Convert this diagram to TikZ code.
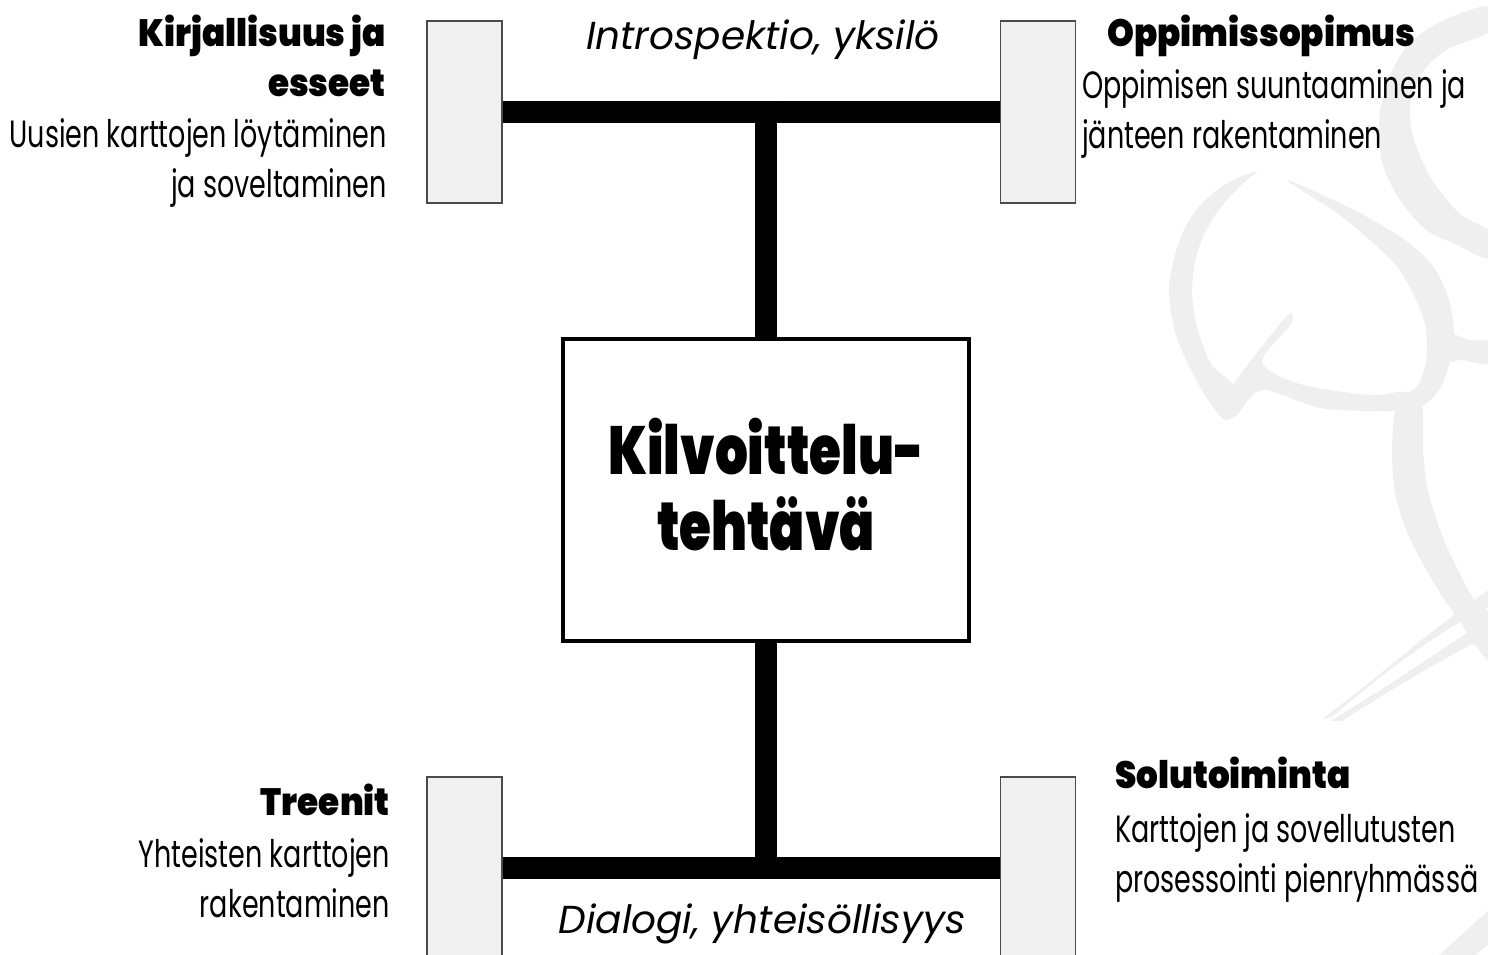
\documentclass[tikz,border=0pt]{standalone}
\usepackage{fontspec}
\setmainfont{Poppins}
\newfontfamily\heavyfont{Poppins Black}[FakeStretch=0.9]
\newfontfamily\titlefont{Poppins Black}[FakeStretch=0.76]
\newfontfamily\condfont{Poppins}[FakeStretch=0.71]
\newfontfamily\talkfont{Poppins}

\definecolor{wheelfill}{HTML}{F0F0F0}
\definecolor{wheeledge}{HTML}{4A4A4A}
\definecolor{watermark}{HTML}{EFEFEF}

\tikzset{
  wheel/.style={draw=wheeledge, line width=1.3pt, fill=wheelfill,
    minimum width=75pt, minimum height=182pt, inner sep=0pt},
  axle/.style={line width=22pt, line cap=butt},
  core/.style={draw, line width=4pt, fill=white, minimum width=406pt,
    minimum height=302pt, inner sep=0pt},
  corelabel/.style={anchor=base, align=center, inner sep=0pt,
    font=\titlefont\fontsize{68}{76}\selectfont},
  headR/.style={anchor=base east, inner sep=0pt, align=right,
    font=\heavyfont\fontsize{38}{50}\selectfont},
  headL/.style={anchor=base west, inner sep=0pt, align=left,
    font=\heavyfont\fontsize{38}{50}\selectfont},
  bodyR/.style={anchor=base east, inner sep=0pt, align=right,
    font=\condfont\fontsize{38}{50}\selectfont},
  bodyL/.style={anchor=base west, inner sep=0pt, align=left,
    font=\condfont\fontsize{38}{50}\selectfont},
  talk/.style={anchor=base, inner sep=0pt,
    font=\talkfont\itshape\fontsize{39}{46}\selectfont},
  swash/.style={fill=watermark, draw=none}
}

\begin{document}
\begin{tikzpicture}[x=1pt, y=-1pt]
\useasboundingbox (0,0) rectangle (1488,955);
\clip (0,0) rectangle (1488,955);

% faint figure in the background
\fill[swash] plot[smooth cycle] coordinates {
  (1488,6) (1440,22) (1408,45) (1388,80) (1379,120) (1382,162) (1398,197)
  (1425,229) (1455,244) (1490,259) (1490,232) (1460,214) (1432,180)
  (1414,140) (1410,105) (1421,74) (1446,50) (1490,31)};
\fill[swash] plot[smooth cycle] coordinates {
  (1257,171) (1224,185) (1196,210) (1179,242) (1169,287) (1175,332)
  (1192,372) (1212,406) (1228,420) (1240,392) (1212,365) (1198,330)
  (1192,290) (1198,250) (1215,215) (1240,186)};
\fill[swash] plot[smooth cycle] coordinates {
  (1286,317) (1291,324) (1262,362) (1300,384) (1370,395) (1405,392)
  (1412,409) (1380,411) (1320,408) (1262,390) (1236,416) (1226,417)
  (1228,392)};
\fill[swash] plot[smooth cycle] coordinates {
  (1287,180) (1350,208) (1402,238) (1432,265) (1449,300) (1454,340)
  (1442,385) (1420,407) (1396,397) (1416,388) (1426,362) (1426,330)
  (1417,302) (1398,268) (1372,242) (1338,214)};
\fill[swash] plot[smooth cycle] coordinates {
  (1447,334) (1470,340) (1490,342) (1490,364) (1462,360) (1446,361)};
\fill[swash] plot[smooth cycle] coordinates {
  (1397,406) (1392,450) (1395,492) (1407,532) (1432,580) (1456,616)
  (1490,662) (1490,616) (1473,598) (1455,564) (1440,530) (1428,490)
  (1423,450) (1421,403)};
\fill[swash] (1322,719) .. controls (1380,676) and (1430,630) .. (1490,589)
  -- (1490,606) .. controls (1440,630) and (1380,675) .. (1332,717) -- cycle;
\fill[swash] (1330,721) .. controls (1380,692) and (1440,650) .. (1490,618)
  -- (1490,640) -- (1470,645) .. controls (1420,672) and (1380,697) .. (1342,721) -- cycle;
\fill[swash] (1490,909) -- (1437,957) -- (1473,957) -- (1490,943) -- cycle;

% wheels
\node[wheel] (wheelTL) at (464.5,112) {};
\node[wheel] (wheelTR) at (1038,112) {};
\node[wheel] (wheelBL) at (464.5,868) {};
\node[wheel] (wheelBR) at (1038,868) {};

% central task box
\node[core] (core) at (766,490) {};
\node[corelabel] (coreText) at (766,550) {Kilvoittelu-\\tehtävä};

% axles and shaft
\coordinate (hubT) at (766,101);
\coordinate (hubB) at (766,879);
\draw[axle] (wheelTL.east) -- (wheelTR.west);
\draw[axle] (wheelBL.east) -- (wheelBR.west);
\draw[axle] (hubT) -- (core.north);
\draw[axle] (core.south) -- (hubB);

% labels
\node[talk] (intro) at (763,50) {Introspektio, yksilö};
\node[talk] (dialog) at (762,933) {Dialogi, yhteisöllisyys};

\node[headR] (kirjH) at (386,97) {Kirjallisuus ja\\esseet};
\node[bodyR] (kirjB) at (387,197) {Uusien karttojen löytäminen\\ja soveltaminen};

\node[headL] (oppH) at (1107,47) {Oppimissopimus};
\node[bodyL] (oppB) at (1082,148) {Oppimisen suuntaaminen ja\\jänteen rakentaminen};

\node[headR] (treH) at (390,815) {Treenit};
\node[bodyR] (treB) at (390,917) {Yhteisten karttojen\\rakentaminen};

\node[headL] (soluH) at (1115,788) {Solutoiminta};
\node[bodyL] (soluB) at (1115,892) {Karttojen ja sovellutusten\\prosessointi pienryhmässä};
\end{tikzpicture}
\end{document}
